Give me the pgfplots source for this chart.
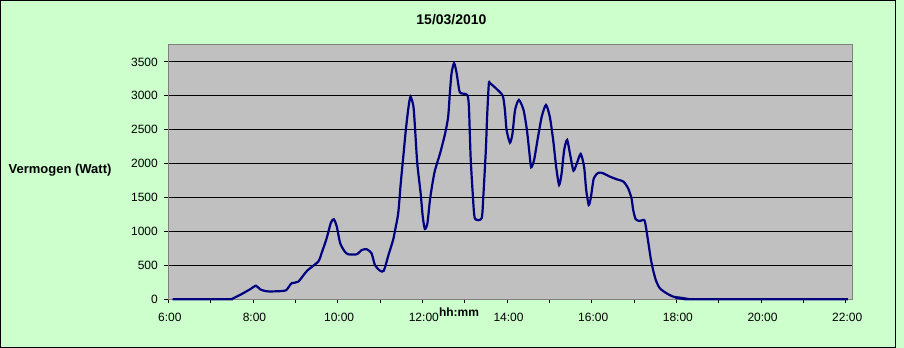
\documentclass[border=0pt]{standalone}
\usepackage{fontspec}
\setmainfont{Liberation Sans}
\usepackage{pgfplots}
\pgfplotsset{compat=1.18}
\definecolor{bggreen}{HTML}{CCFFCC}
\definecolor{plotgray}{HTML}{C0C0C0}
\definecolor{navyline}{HTML}{000080}
\definecolor{bordergray}{HTML}{808080}
\newcommand{\tl}[1]{\fontsize{12bp}{14bp}\selectfont #1}
\begin{document}
\begin{tikzpicture}
\useasboundingbox (-168.3bp,-48.7bp) rectangle (735.7bp,299.3bp);
\fill[bggreen] (-168.3bp,-48.7bp) rectangle (735.7bp,299.3bp);
\draw[black, line width=1bp] (-167.8bp,-48.2bp) rectangle (727.2bp,298.8bp);
\begin{axis}[
  scale only axis, width=684bp, height=254.3bp,
  xmin=6, xmax=22.155, ymin=0, ymax=3750,
  clip=false,
  axis background/.style={fill=plotgray},
  axis line style={bordergray, line width=1bp},
  xtick={6,8,...,22},
  xticklabels={\tl{6:00},\tl{8:00},\tl{10:00},\tl{12:00},\tl{14:00},\tl{16:00},\tl{18:00},\tl{20:00},\tl{22:00}},
  minor xtick={7,9,...,21},
  ytick={0,500,...,3500},
  yticklabels={\tl{0},\tl{500},\tl{1000},\tl{1500},\tl{2000},\tl{2500},\tl{3000},\tl{3500}},
  ymajorgrids, major grid style={black, line width=0.9bp},
  tick align=outside, xtick pos=left, ytick pos=left,
  major tick length=4bp, minor tick length=4bp,
  every tick/.style={black, line width=0.9bp},
  xticklabel style={yshift=-6bp, xshift=1.5bp},
  yticklabel style={xshift=-3bp},
  title={15/03/2010},
  title style={font=\fontsize{14bp}{16bp}\selectfont\bfseries, at={(axis description cs:0.414,1.0775)}, anchor=center},
  xlabel={hh:mm},
  xlabel style={font=\fontsize{12bp}{14bp}\selectfont\bfseries, at={(axis description cs:0.425,-0.050)}, anchor=center},
  ylabel={Vermogen (Watt)},
  ylabel style={font=\fontsize{13bp}{15bp}\selectfont\bfseries, rotate=-90, at={(axis description cs:-0.1583,0.508)}, anchor=center},
]
\addplot[navyline, line width=2.2bp, smooth, tension=0.4] coordinates {
(6.10,0) (7.45,0) (7.50,5) (7.69,63) (7.93,147) (8.07,200) (8.17,147) (8.32,118) (8.56,118) (8.78,133) (8.91,236) (9.07,260) (9.28,422) (9.54,555) (9.62,679) (9.74,900) (9.84,1130) (9.91,1180) (9.98,1071) (10.06,826) (10.17,702) (10.25,664) (10.45,664) (10.57,727) (10.69,737) (10.80,679) (10.88,506) (11.00,422) (11.09,422) (11.20,653) (11.31,875) (11.35,997) (11.43,1268) (11.49,1711) (11.55,2103) (11.61,2497) (11.67,2817) (11.72,2988) (11.79,2841) (11.83,2497) (11.88,2006) (11.96,1563) (12.01,1218) (12.06,1037) (12.12,1121) (12.18,1465) (12.24,1711) (12.30,1907) (12.42,2154) (12.54,2449) (12.61,2693) (12.65,3039) (12.69,3334) (12.75,3481) (12.81,3334) (12.87,3087) (12.91,3039) (13.06,3013) (13.10,2841) (13.14,2103) (13.19,1563) (13.24,1195) (13.40,1195) (13.44,1513) (13.50,2202) (13.53,2693) (13.57,3176) (13.60,3186) (13.76,3098) (13.90,2999) (13.95,2792) (13.99,2497) (14.07,2310) (14.13,2449) (14.19,2792) (14.28,2940) (14.39,2792) (14.47,2497) (14.53,2154) (14.57,1947) (14.64,2055) (14.72,2350) (14.82,2693) (14.92,2866) (15.01,2693) (15.09,2350) (15.16,1956) (15.23,1686) (15.29,1859) (15.35,2202) (15.42,2350) (15.50,2103) (15.57,1897) (15.65,2006) (15.74,2143) (15.82,1956) (15.87,1612) (15.93,1391) (15.98,1500) (16.05,1785) (16.16,1867) (16.27,1858) (16.43,1809) (16.59,1770) (16.75,1735) (16.86,1637) (16.94,1490) (16.98,1317) (17.04,1180) (17.14,1155) (17.24,1170) (17.28,1071) (17.34,826) (17.40,580) (17.46,407) (17.52,274) (17.61,162) (17.77,88) (17.93,38) (18.09,24) (18.24,9) (18.40,0) (22.05,0)
};
\end{axis}
\end{tikzpicture}
\end{document}
